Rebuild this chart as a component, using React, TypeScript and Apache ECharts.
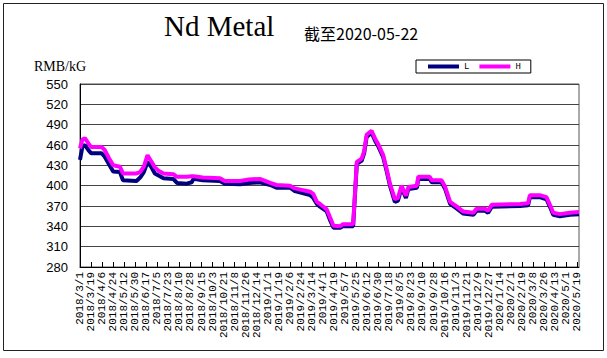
import React, { useEffect, useRef } from "react";
import * as echarts from "echarts";

// Days since 2018/3/1 for each sampled point
const dayIndex = [
  0, 4, 8, 14, 18, 35, 40, 47, 54, 65, 70, 92, 98, 104, 110, 116, 122, 128, 136, 152,
  158, 174, 182, 185, 200, 228, 236, 261, 275, 293, 310, 320, 342, 350, 375, 380, 386, 391, 402, 407,
  413, 424, 428, 445, 451, 459, 463, 467, 475, 481, 486, 494, 500, 505, 513, 518, 524, 531, 535, 549,
  551, 570, 573, 589, 595, 603, 614, 624, 641, 646, 660, 665, 671, 717, 730, 733, 749, 760, 766, 771,
  782, 798, 813,
];
const lowValues = [
  438, 458, 460, 452, 448, 448, 443, 432, 421, 420, 408, 407, 412, 420, 435, 428, 418, 415, 411, 410,
  404, 403, 405, 410, 408, 407, 403, 402, 404, 405, 401, 397, 397, 392, 386, 382, 373, 369, 362, 350,
  338, 338, 340, 340, 432, 437, 448, 472, 478, 466, 458, 442, 420, 400, 376, 378, 397, 382, 395, 397,
  410, 410, 405, 405, 395, 373, 366, 359, 357, 363, 363, 360, 369, 370, 371, 383, 383, 380, 368, 357,
  355, 357, 358,
];
const highValues = [
  455, 468, 470, 462, 457, 457, 453, 441, 430, 428, 418, 418, 420, 428, 445, 436, 427, 422, 418, 417,
  413, 413, 414, 414, 412, 411, 407, 407, 409, 410, 404, 401, 400, 396, 391, 388, 376, 373, 365, 354,
  341, 340, 343, 343, 435, 440, 451, 475, 481, 469, 461, 445, 423, 403, 380, 382, 400, 385, 398, 400,
  413, 413, 408, 408, 398, 376, 369, 362, 360, 366, 366, 363, 372, 373, 374, 386, 386, 383, 371, 360,
  358, 360, 361,
];
const tickLabels = [
  "2018/3/1", "2018/3/19", "2018/4/6", "2018/4/24", "2018/5/12", "2018/5/30", "2018/6/17", "2018/7/5",
  "2018/7/23", "2018/8/10", "2018/8/28", "2018/9/15", "2018/10/3", "2018/10/21", "2018/11/8", "2018/11/26",
  "2018/12/14", "2019/1/1", "2019/1/19", "2019/2/6", "2019/2/24", "2019/3/14", "2019/4/1", "2019/4/19",
  "2019/5/7", "2019/5/25", "2019/6/12", "2019/6/30", "2019/7/18", "2019/8/5", "2019/8/23", "2019/9/10",
  "2019/9/28", "2019/10/16", "2019/11/3", "2019/11/21", "2019/12/9", "2019/12/27", "2020/1/14", "2020/2/1",
  "2020/2/19", "2020/3/8", "2020/3/26", "2020/4/13", "2020/5/1", "2020/5/19",
];
const seriesNames = ["L", "H"];
const titleText = "Nd Metal";
const subtitleText = "截至2020-05-22";
const unitText = "RMB/kG";

export default function App() {
  const ref = useRef<HTMLDivElement>(null);
  useEffect(() => {
    if (!ref.current) return;
    const chart = echarts.init(ref.current, null, { renderer: "svg" });
    const low = dayIndex.map((d, i) => [d, lowValues[i]]);
    const high = dayIndex.map((d, i) => [d, highValues[i]]);
    chart.setOption({
      animation: false,
      backgroundColor: "#ffffff",
      grid: {
        left: 80,
        top: 84,
        right: 28,
        bottom: 91,
        show: true,
        borderColor: "#555",
        borderWidth: 1,
      },
      legend: {
        data: seriesNames,
        left: 416,
        top: 60,
        icon: "rect",
        itemWidth: 31,
        itemHeight: 4,
        itemGap: 10,
        padding: [2, 10, 2, 12],
        borderColor: "#000",
        borderWidth: 1,
        textStyle: { fontSize: 9, fontFamily: "Liberation Mono", color: "#000" },
      },
      graphic: [
        {
          type: "rect",
          shape: { x: 3.5, y: 3.5, width: 600, height: 347 },
          style: { fill: "none", stroke: "#222", lineWidth: 1 },
          silent: true,
        },
        {
          type: "text",
          x: 164,
          y: 40,
          style: {
            text: titleText,
            font: "29px 'Liberation Serif'",
            fill: "#000",
            textVerticalAlign: "bottom",
            verticalAlign: "alphabetic",
          },
        },
        {
          type: "text",
          x: 304,
          y: 41,
          style: {
            text: subtitleText,
            font: "16px 'Noto Sans CJK SC'",
            fill: "#000",
            verticalAlign: "bottom",
          },
        },
        {
          type: "text",
          x: 34,
          y: 73,
          style: {
            text: unitText,
            font: "14px 'Liberation Serif'",
            fill: "#000",
            verticalAlign: "bottom",
          },
        },
      ],
      xAxis: {
        type: "value",
        min: 0,
        max: 813,
        interval: 18,
        axisLine: { show: true, lineStyle: { color: "#000", width: 1 } },
        axisTick: { show: true, inside: true, length: 5, lineStyle: { color: "#000" } },
        splitLine: { show: false },
        axisLabel: {
          rotate: 90,
          margin: 5,
          fontSize: 11,
          fontFamily: "Liberation Mono",
          color: "#000",
          showMaxLabel: false,
          formatter: (v: number) => {
            const k = v / 18;
            return Number.isInteger(k) && tickLabels[k] ? tickLabels[k] : "";
          },
        },
      },
      yAxis: {
        type: "value",
        min: 280,
        max: 550,
        interval: 30,
        axisLine: { show: true, lineStyle: { color: "#000", width: 1 } },
        axisTick: { show: false },
        splitLine: { show: true, lineStyle: { color: "#444", width: 1 } },
        axisLabel: {
          fontSize: 13,
          fontFamily: "Liberation Sans",
          color: "#000",
          margin: 12,
        },
      },
      series: [
        {
          name: seriesNames[0],
          type: "line",
          data: low,
          showSymbol: false,
          lineStyle: { color: "#000080", width: 4 },
          itemStyle: { color: "#000080" },
        },
        {
          name: seriesNames[1],
          type: "line",
          data: high,
          showSymbol: false,
          lineStyle: { color: "#ff00ff", width: 4 },
          itemStyle: { color: "#ff00ff" },
        },
      ],
    });
    return () => chart.dispose();
  }, []);
  return (
    <div
      ref={ref}
      style={{ position: "fixed", left: 0, top: 0, width: 607, height: 358 }}
    />
  );
}
